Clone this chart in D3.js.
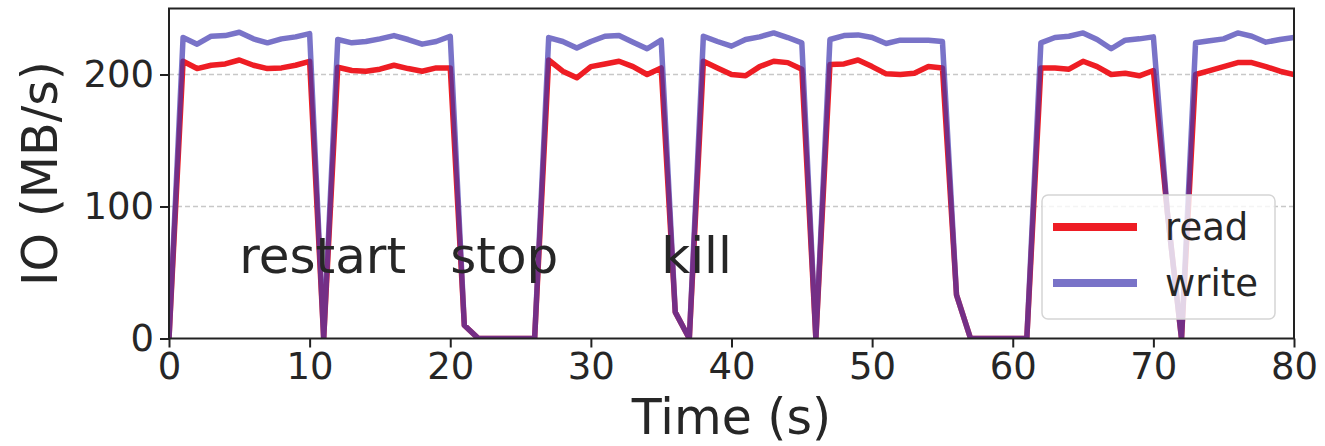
<!DOCTYPE html>
<html>
<head>
<meta charset="utf-8">
<script src="https://cdn.jsdelivr.net/npm/d3@7"></script>
<style>
  body { margin: 0; background: #fff; }
  text { font-family: 'DejaVu Sans', sans-serif; fill: #262626; }
</style>
</head>
<body>
<div id="graf"></div>
<script>
// Datos, un punto por segundo
tiempo = d3.range(0, 81)
lectura = [0, 210, 204.5, 207, 208, 211, 207, 204.5, 205, 207, 210,
  0, 205.5, 203, 202.5, 204, 207, 204.5, 202.5, 205, 205,
  10, 0, 0, 0, 0, 0, 211, 202.5, 197.5, 206,
  208, 210, 206, 200, 205, 20, 0, 210, 205, 200,
  199, 206, 210, 209, 204, 0, 207.5, 208, 211, 206,
  200.5, 200, 201, 206, 205, 33, 0, 0, 0, 0,
  0, 205, 205, 204, 210, 206, 200, 201, 199, 203,
  95, 0, 200, 203, 206, 209, 209, 206, 202.5, 200]
escritura = [0, 228, 223, 229, 229.5, 232, 227, 224, 227, 228.5, 231,
  0, 226.5, 224, 225, 227, 229.5, 226.5, 223, 225, 229,
  10, 0, 0, 0, 0, 0, 228, 225, 220, 225,
  229, 229.5, 224.5, 219.5, 226, 20, 0, 229, 225, 221.5,
  226.5, 228.5, 231.5, 228, 224, 0, 226.5, 229.5, 230, 228,
  223.5, 226, 226, 226, 225, 33, 0, 0, 0, 0,
  0, 224, 228, 229, 231.5, 226.5, 219.5, 226, 227, 228.5,
  95, 0, 224, 225.5, 227, 231.5, 229, 224.5, 226.5, 228]
xTicks = [0, 10, 20, 30, 40, 50, 60, 70, 80]
yTicks = [0, 100, 200]
eventos = [
  { t: 5, v: 50, label: 'restart' },
  { t: 20, v: 50, label: 'stop' },
  { t: 35, v: 50, label: 'kill' }
]
series = [
  { nombre: 'read', valores: lectura, color: '#ee1d24', opacidad: 1 },
  { nombre: 'write', valores: escritura, color: '#4038b0', opacidad: 0.7 }
]

// Configuracion
ancho_total = 1325
alto_total = 446
margins = { top: 8.5, left: 169, right: 31, bottom: 107.5 }
ancho = ancho_total - margins.left - margins.right
alto = alto_total - margins.top - margins.bottom

svg = d3.select('#graf').append('svg')
  .attr('width', ancho_total)
  .attr('height', alto_total)

g = svg.append('g')
  .attr('transform', `translate(${margins.left}, ${margins.top})`)

// Escaladores
x = d3.scaleLinear().domain([0, 80]).range([0, ancho])
y = d3.scaleLinear().domain([0, 250]).range([alto, 0])

// Rejilla horizontal punteada
g.append('g')
  .selectAll('line')
  .data(yTicks.filter(d => d > 0))
  .join('line')
    .attr('x1', 0)
    .attr('x2', ancho)
    .attr('y1', d => y(d))
    .attr('y2', d => y(d))
    .attr('stroke', '#c8c8c8')
    .attr('stroke-width', 1.3)
    .attr('stroke-dasharray', '5,3')

g.append('clipPath')
  .attr('id', 'clip')
  .append('rect')
    .attr('x', 0)
    .attr('y', -10)
    .attr('width', ancho)
    .attr('height', alto + 10)

// Lineas
linea = d3.line()
  .x((d, i) => x(tiempo[i]))
  .y(d => y(d))

g.append('g')
  .attr('clip-path', 'url(#clip)')
  .selectAll('path')
  .data(series)
  .join('path')
    .attr('d', d => linea(d.valores))
    .attr('fill', 'none')
    .attr('stroke', d => d.color)
    .attr('stroke-opacity', d => d.opacidad)
    .attr('stroke-width', 5.5)
    .attr('stroke-linejoin', 'round')

// Anotaciones
g.selectAll('.evento')
  .data(eventos)
  .join('text')
    .attr('class', 'evento')
    .attr('x', d => x(d.t))
    .attr('y', d => y(d.v))
    .attr('font-size', '50px')
    .text(d => d.label)

// Ejes
xAxis = d3.axisBottom(x)
  .tickValues(xTicks)
  .tickSize(9)
  .tickPadding(5)
yAxis = d3.axisLeft(y)
  .tickValues(yTicks)
  .tickSize(9)
  .tickPadding(6)

gx = g.append('g')
  .attr('transform', `translate(0,${alto})`)
  .call(xAxis)
gy = g.append('g')
  .call(yAxis)

;[gx, gy].forEach(a => {
  a.select('.domain').remove()
  a.selectAll('.tick line').attr('stroke', '#222').attr('stroke-width', 2)
  a.selectAll('.tick text')
    .attr('font-size', '37px')
    .attr('font-family', 'DejaVu Sans')
    .attr('fill', '#262626')
})

// Marco
g.append('rect')
  .attr('x', 0)
  .attr('y', 0)
  .attr('width', ancho)
  .attr('height', alto)
  .attr('fill', 'none')
  .attr('stroke', '#222')
  .attr('stroke-width', 2)

// Titulos de ejes
svg.append('text')
  .attr('x', margins.left + ancho / 2)
  .attr('y', 434)
  .attr('text-anchor', 'middle')
  .attr('font-size', '49px')
  .text('Time (s)')

svg.append('text')
  .attr('transform', `translate(57, ${margins.top + alto / 2}) rotate(-90)`)
  .attr('text-anchor', 'middle')
  .attr('font-size', '49px')
  .text('IO (MB/s)')

// Leyenda
leyenda = svg.append('g')
  .attr('transform', 'translate(1042, 195)')

leyenda.append('rect')
  .attr('width', 233)
  .attr('height', 124)
  .attr('rx', 6)
  .attr('fill', '#fff')
  .attr('fill-opacity', 0.8)
  .attr('stroke', '#d5d5d5')
  .attr('stroke-width', 1.5)

items = leyenda.selectAll('.item')
  .data(series)
  .join('g')
    .attr('class', 'item')
    .attr('transform', (d, i) => `translate(0, ${32 + i * 56})`)

items.append('line')
  .attr('x1', 11)
  .attr('x2', 95)
  .attr('stroke', d => d.color)
  .attr('stroke-opacity', d => d.opacidad)
  .attr('stroke-width', 8)

items.append('text')
  .attr('x', 123)
  .attr('dy', '0.35em')
  .attr('font-size', '37px')
  .text(d => d.nombre)
</script>
</body>
</html>
